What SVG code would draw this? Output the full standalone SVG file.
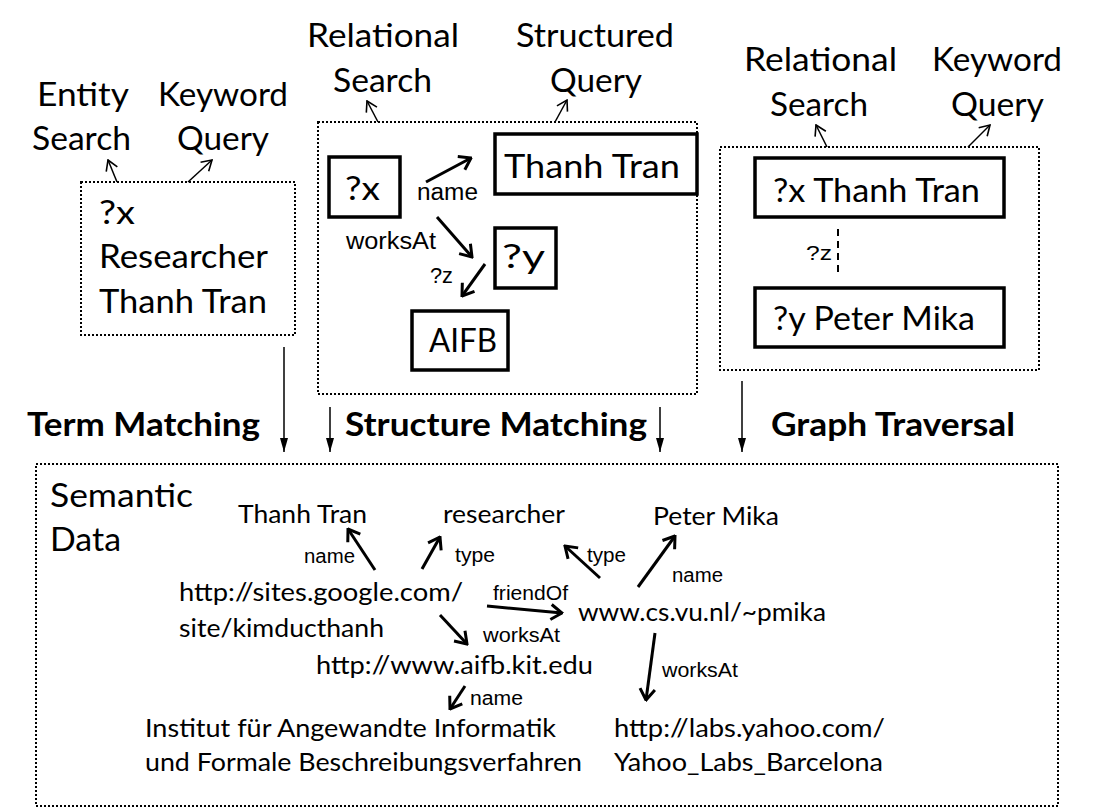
<svg xmlns="http://www.w3.org/2000/svg" width="1098" height="809" viewBox="0 0 1098 809">
<defs>
<style>
.t{font-family:Lato,"Open Sans","Noto Sans",sans-serif;fill:#000}
.big{font-size:32px}
.mid{font-size:25px}
.b{font-family:Lato,"Open Sans","Noto Sans",sans-serif;font-weight:bold;font-size:32px}
.lab{font-family:"Liberation Sans",Arial,sans-serif;fill:#000}
.dot{fill:none;stroke:#000;stroke-width:2;stroke-dasharray:2 2}
.node{fill:#fff;stroke:#000;stroke-width:3.5}
.thin{stroke:#000;stroke-width:1.5;fill:none;marker-end:url(#vs)}
.thick{stroke:#000;stroke-width:3;fill:none;marker-end:url(#vl)}
.down{stroke:#000;stroke-width:1.5;fill:none;marker-end:url(#tri)}
</style>
<marker id="vs" viewBox="0 0 12 14" refX="11" refY="7" markerWidth="12" markerHeight="14" markerUnits="userSpaceOnUse" orient="auto">
<path d="M1,1 L11,7 L1,13" fill="none" stroke="#000" stroke-width="1.6"/>
</marker>
<marker id="vl" viewBox="0 0 14 18" refX="12.5" refY="9" markerWidth="14" markerHeight="18" markerUnits="userSpaceOnUse" orient="auto">
<path d="M1.5,1.5 L12.5,9 L1.5,16.5" fill="none" stroke="#000" stroke-width="3"/>
</marker>
<marker id="tri" viewBox="0 0 14 8" refX="14" refY="4" markerWidth="14" markerHeight="8" markerUnits="userSpaceOnUse" orient="auto">
<path d="M0,0 L14,4 L0,8 Z" fill="#000"/>
</marker>
</defs>
<rect width="1098" height="809" fill="#fff"/>

<g id="labels-top">
<text class="t big" x="37" y="106" textLength="92" lengthAdjust="spacingAndGlyphs">Entity</text>
<text class="t big" x="32" y="150" textLength="99" lengthAdjust="spacingAndGlyphs">Search</text>
<text class="t big" x="158" y="106" textLength="130" lengthAdjust="spacingAndGlyphs">Keyword</text>
<text class="t big" x="177" y="150" textLength="92" lengthAdjust="spacingAndGlyphs">Query</text>
<text class="t big" x="307" y="47" textLength="152" lengthAdjust="spacingAndGlyphs">Relational</text>
<text class="t big" x="333" y="92" textLength="99" lengthAdjust="spacingAndGlyphs">Search</text>
<text class="t big" x="516" y="47" textLength="158" lengthAdjust="spacingAndGlyphs">Structured</text>
<text class="t big" x="550" y="92" textLength="92" lengthAdjust="spacingAndGlyphs">Query</text>
<text class="t big" x="744" y="71" textLength="153" lengthAdjust="spacingAndGlyphs">Relational</text>
<text class="t big" x="770" y="116" textLength="98" lengthAdjust="spacingAndGlyphs">Search</text>
<text class="t big" x="932" y="71" textLength="130" lengthAdjust="spacingAndGlyphs">Keyword</text>
<text class="t big" x="951" y="116" textLength="93" lengthAdjust="spacingAndGlyphs">Query</text>
</g>

<g id="entity-box">
<rect class="dot" x="81" y="182" width="214" height="153"/>
<text class="t big" x="99" y="224" textLength="36" lengthAdjust="spacingAndGlyphs">?x</text>
<text class="t big" x="99" y="268" textLength="169" lengthAdjust="spacingAndGlyphs">Researcher</text>
<text class="t big" x="99" y="313" textLength="168" lengthAdjust="spacingAndGlyphs">Thanh Tran</text>
</g>

<g id="structured-box">
<rect class="dot" x="318" y="122" width="379" height="272"/>
</g>
<g id="sq-x"><rect class="node" x="329" y="157" width="71" height="60"/>
<text class="t big" x="345" y="200" textLength="35" lengthAdjust="spacingAndGlyphs">?x</text></g>
<g id="sq-thanh"><rect class="node" x="495" y="134" width="202" height="60"/>
<text class="t big" x="504" y="178" textLength="176" lengthAdjust="spacingAndGlyphs">Thanh Tran</text></g>
<g id="sq-y"><rect class="node" x="495" y="228" width="61" height="60"/>
<text class="t big" x="502" y="268" textLength="43" lengthAdjust="spacingAndGlyphs">?y</text></g>
<g id="sq-aifb"><rect class="node" x="412" y="311" width="96" height="59"/>
<text class="t big" x="429" y="352" textLength="68" lengthAdjust="spacingAndGlyphs">AIFB</text></g>

<g id="graph-box">
<rect class="dot" x="720" y="147" width="319" height="223"/>
</g>
<g id="gt-x"><rect class="node" x="755" y="158" width="249" height="59"/>
<text class="t big" x="773" y="202" textLength="207" lengthAdjust="spacingAndGlyphs">?x Thanh Tran</text></g>
<g id="gt-y"><rect class="node" x="755" y="288" width="249" height="59"/>
<text class="t big" x="773" y="330" textLength="202" lengthAdjust="spacingAndGlyphs">?y Peter Mika</text></g>

<g id="titles">
<text class="b" x="27" y="436" textLength="233" lengthAdjust="spacingAndGlyphs">Term Matching</text>
<text class="b" x="345" y="436" textLength="302" lengthAdjust="spacingAndGlyphs">Structure Matching</text>
<text class="b" x="771" y="436" textLength="244" lengthAdjust="spacingAndGlyphs">Graph Traversal</text>
</g>

<g id="semantic-data">
<rect class="dot" x="36" y="464" width="1022" height="342"/>
<text class="t big" x="50" y="507" textLength="143" lengthAdjust="spacingAndGlyphs">Semantic</text>
<text class="t big" x="50" y="551" textLength="71" lengthAdjust="spacingAndGlyphs">Data</text>
</g>
<g id="sd-thanh"><text class="t mid" x="238" y="523" textLength="129" lengthAdjust="spacingAndGlyphs">Thanh Tran</text></g>
<g id="sd-researcher"><text class="t mid" x="443" y="523" textLength="122" lengthAdjust="spacingAndGlyphs">researcher</text></g>
<g id="sd-peter"><text class="t mid" x="653" y="525" textLength="126" lengthAdjust="spacingAndGlyphs">Peter Mika</text></g>
<g id="sd-google">
<text class="t mid" x="179" y="601" textLength="284" lengthAdjust="spacingAndGlyphs">http://sites.google.com/</text>
<text class="t mid" x="179" y="637" textLength="205" lengthAdjust="spacingAndGlyphs">site/kimducthanh</text>
</g>
<g id="sd-pmika"><text class="t mid" x="578" y="621" textLength="248" lengthAdjust="spacingAndGlyphs">www.cs.vu.nl/~pmika</text></g>
<g id="sd-aifb"><text class="t mid" x="316" y="674" textLength="277" lengthAdjust="spacingAndGlyphs">http://www.aifb.kit.edu</text></g>
<g id="sd-institut">
<text class="t mid" x="145" y="737" textLength="411" lengthAdjust="spacingAndGlyphs">Institut für Angewandte Informatik</text>
<text class="t mid" x="145" y="771" textLength="437" lengthAdjust="spacingAndGlyphs">und Formale Beschreibungsverfahren</text>
</g>
<g id="sd-yahoo">
<text class="t mid" x="614" y="737" textLength="271" lengthAdjust="spacingAndGlyphs">http://labs.yahoo.com/</text>
<text class="t mid" x="614" y="771" textLength="269" lengthAdjust="spacingAndGlyphs">Yahoo_Labs_Barcelona</text>
</g>

<g id="connectors">
<line class="thin" x1="117" y1="182" x2="108" y2="160"/>
<line class="thin" x1="188" y1="182" x2="212" y2="160"/>
<line class="thin" x1="378" y1="122" x2="367" y2="101"/>
<line class="thin" x1="555" y1="122" x2="567" y2="100"/>
<line class="thin" x1="827" y1="147" x2="816" y2="125"/>
<line class="thin" x1="968" y1="147" x2="990" y2="125"/>

<line class="thick" x1="426" y1="182" x2="471" y2="158"/>
<line class="thick" x1="437" y1="217" x2="472" y2="257"/>
<line class="thick" x1="485" y1="264" x2="462" y2="296"/>
<line x1="838" y1="229" x2="838" y2="276" stroke="#000" stroke-width="2" stroke-dasharray="7 5"/>

<line class="down" x1="284" y1="347" x2="284" y2="452"/>
<line class="down" x1="330" y1="407" x2="330" y2="452"/>
<line class="down" x1="660" y1="407" x2="660" y2="452"/>
<line class="down" x1="742" y1="381" x2="742" y2="452"/>

<line class="thick" x1="375" y1="570" x2="348" y2="529"/>
<line class="thick" x1="422" y1="569" x2="440" y2="537"/>
<line class="thick" x1="600" y1="578" x2="565" y2="546"/>
<line class="thick" x1="638" y1="587" x2="675" y2="536"/>
<line class="thick" x1="487" y1="606" x2="562" y2="613"/>
<line class="thick" x1="440" y1="615" x2="467" y2="644"/>
<line class="thick" x1="655" y1="633" x2="646" y2="700"/>
<line class="thick" x1="465" y1="686" x2="450" y2="709"/>

<text class="lab" font-size="23" x="417" y="200" textLength="61" lengthAdjust="spacingAndGlyphs">name</text>
<text class="lab" font-size="23" x="346" y="249" textLength="90" lengthAdjust="spacingAndGlyphs">worksAt</text>
<text class="lab" font-size="22" x="430" y="283" textLength="23" lengthAdjust="spacingAndGlyphs">?z</text>
<text class="lab" font-size="21" x="806" y="260" textLength="26" lengthAdjust="spacingAndGlyphs">?z</text>

<text class="lab" font-size="20" x="304" y="563" textLength="51" lengthAdjust="spacingAndGlyphs">name</text>
<text class="lab" font-size="20" x="455" y="562" textLength="40" lengthAdjust="spacingAndGlyphs">type</text>
<text class="lab" font-size="20" x="587" y="562" textLength="39" lengthAdjust="spacingAndGlyphs">type</text>
<text class="lab" font-size="20" x="672" y="582" textLength="51" lengthAdjust="spacingAndGlyphs">name</text>
<text class="lab" font-size="20" x="493" y="600" textLength="75" lengthAdjust="spacingAndGlyphs">friendOf</text>
<text class="lab" font-size="20" x="483" y="642" textLength="77" lengthAdjust="spacingAndGlyphs">worksAt</text>
<text class="lab" font-size="20" x="662" y="677" textLength="76" lengthAdjust="spacingAndGlyphs">worksAt</text>
<text class="lab" font-size="20" x="470" y="705" textLength="53" lengthAdjust="spacingAndGlyphs">name</text>
</g>
</svg>
